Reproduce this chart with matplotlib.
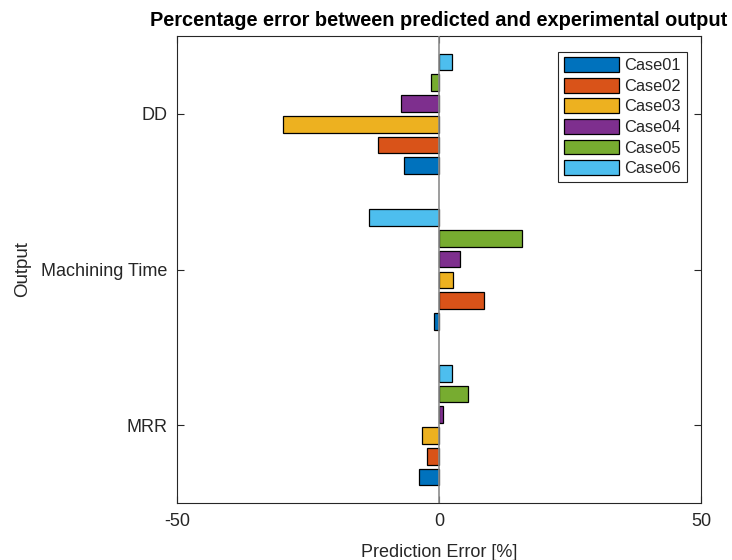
import matplotlib
matplotlib.use("Agg")
import matplotlib.pyplot as plt
import numpy as np

plt.rcParams['font.family'] = ['Liberation Sans', 'DejaVu Sans']
plt.rcParams['axes.unicode_minus'] = False

categories = ['MRR', 'Machining Time', 'DD']
series_names = ['Case01', 'Case02', 'Case03', 'Case04', 'Case05', 'Case06']
case01 = [-3.9, -1.0, -6.7]
case02 = [-2.2, 8.5, -11.6]
case03 = [-3.2, 2.7, -29.8]
case04 = [0.8, 4.1, -7.3]
case05 = [5.5, 15.8, -1.5]
case06 = [2.4, -13.3, 2.4]
series = [case01, case02, case03, case04, case05, case06]
colors = ['#0072BD', '#D95319', '#EDB120', '#7E2F8E', '#77AC30', '#4DBEEE']

axc = '#262626'
fig = plt.figure(figsize=(7.32, 5.6), dpi=100)
ax = fig.add_axes([177/732, 57/560, 524/732, 467/560])

n = len(series)
pos = np.arange(1, len(categories) + 1)
group_w = 0.8
slot = group_w / n
for i, (vals, c, name) in enumerate(zip(series, colors, series_names)):
    off = (i - (n - 1) / 2) * slot
    ax.barh(pos + off, vals, height=slot * 0.8, color=c, edgecolor='black',
            linewidth=0.9, label=name, zorder=2)

ax.axvline(0, color='#8c8c8c', linewidth=1.2, zorder=3)

ax.set_xlim(-50, 50)
ax.set_ylim(0.5, 3.5)
ax.set_xticks([-50, 0, 50])
ax.set_yticks(pos)
ax.set_yticklabels(categories)
ax.tick_params(direction='in', length=5, width=0.8, colors=axc, labelsize=13,
               top=True, right=True, labelcolor=axc, pad=7)
for s in ax.spines.values():
    s.set_color(axc)
    s.set_linewidth(0.8)

ax.set_xlabel('Prediction Error [%]', fontsize=13, color=axc, labelpad=10)
ax.set_ylabel('Output', fontsize=13.5, color=axc, labelpad=7)
ax.set_title('Percentage error between predicted and experimental output',
             fontsize=14.4, fontweight='bold', color='black', pad=7)

leg = ax.legend(loc='upper right', bbox_to_anchor=(0.9727, 0.9664),
                borderaxespad=0, fontsize=11.8, handlelength=3.4,
                handleheight=1.0, handletextpad=0.3, labelspacing=0.28,
                borderpad=0.35, fancybox=False, framealpha=1, edgecolor=axc)
leg.get_frame().set_linewidth(0.8)
for t in leg.get_texts():
    t.set_color(axc)

fig.savefig('out.png', dpi=100)
